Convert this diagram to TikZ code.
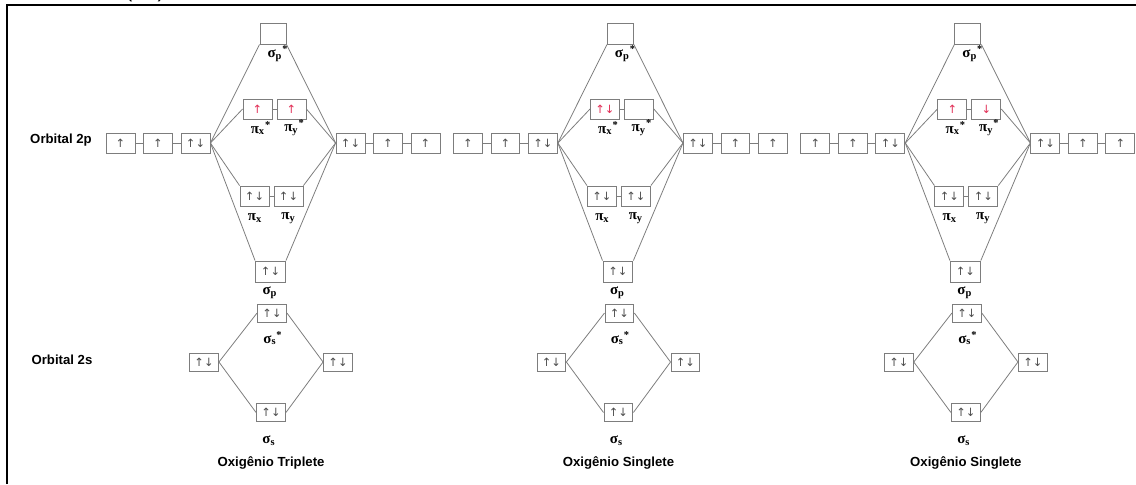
\documentclass[tikz,border=0pt]{standalone}
\usepackage{fontspec}
\setmainfont{Liberation Serif}
\setsansfont{Liberation Sans}
\newfontfamily\arrowfont{DejaVu Sans}
\usepackage{xcolor}
\usepackage{tikz}

\definecolor{linegray}{RGB}{125,125,125}
\definecolor{spinred}{RGB}{225,45,85}

\begin{document}
\begin{tikzpicture}[x=0.02cm, y=-0.02cm,
    orb/.style={draw=linegray, line width=0.5pt, minimum width=0.58cm,
      minimum height=0.40cm, inner sep=0pt, text=black!70,
      font=\arrowfont\fontsize{6.5}{7}\selectfont},
    orbs/.style={orb, minimum height=0.36cm},
    mo/.style={font=\bfseries\fontsize{8.5}{9}\selectfont},
    lbl/.style={font=\sffamily\bfseries\fontsize{7.5}{9}\selectfont},
    link/.style={draw=linegray, line width=0.45pt}]

    \clip (0,0) rectangle (1136,484);

    % Draw frame and cut heading
    \draw[line width=0.04cm] (7,484) -- (7,5) -- (1136,5);
    \node[anchor=base, font=\sffamily\fontsize{12}{14}\selectfont] (head) at (145,-2.5) {(O\textsubscript{2})};

    % Row labels
    \node[lbl] (l2p) at (61,140) {Orbital 2p};
    \node[lbl] (l2s) at (62,360) {Orbital 2s};

    % One diagram per state of O2
    \foreach \d/\pa/\pb/\kind in {0/{\color{spinred}↑}/{\color{spinred}↑}/Triplete,
                                  1/{\color{spinred}↑↓}/{}/Singlete,
                                  2/{\color{spinred}↑}/{\color{spinred}↓}/Singlete}{
      \begin{scope}[xshift=\d*6.95cm]
        % atomic 2p levels
        \node[orb] (a1-\d) at (120.5,143) {↑};
        \node[orb] (a2-\d) at (158,143) {↑};
        \node[orb] (a3-\d) at (195.5,143) {↑↓};
        \node[orb] (b1-\d) at (350.5,143) {↑↓};
        \node[orb] (b2-\d) at (388,143) {↑};
        \node[orb] (b3-\d) at (425.5,143) {↑};

        % molecular levels from 2p
        \node[orb, minimum width=0.52cm, minimum height=0.42cm] (sps-\d) at (273,33.5) {};
        \node[orb] (pxs-\d) at (257.5,109) {\pa};
        \node[orb] (pys-\d) at (291.5,109) {\pb};
        \node[orb] (px-\d) at (254.5,196) {↑↓};
        \node[orb] (py-\d) at (288.5,196) {↑↓};
        \node[orb, minimum width=0.60cm, minimum height=0.42cm] (sp-\d) at (270.5,271.5) {↑↓};

        % 2s levels
        \node[orbs] (s1-\d) at (204,362) {↑↓};
        \node[orbs] (s2-\d) at (338,362) {↑↓};
        \node[orbs] (sss-\d) at (272,313) {↑↓};
        \node[orbs] (ss-\d) at (271,412.5) {↑↓};

        % level names
        \node[mo] (lsps-\d) at (278,54) {σ\textsubscript{p}\textsuperscript{*}};
        \node[mo] (lpxs-\d) at (261,128) {π\textsubscript{x}\textsuperscript{*}};
        \node[mo] (lpys-\d) at (294.5,128) {π\textsubscript{y}\textsuperscript{*}};
        \node[mo] (lpx-\d) at (255,218) {π\textsubscript{x}};
        \node[mo] (lpy-\d) at (288.5,218) {π\textsubscript{y}};
        \node[mo] (lsp-\d) at (270,293) {σ\textsubscript{p}};
        \node[mo] (lsss-\d) at (273,338) {σ\textsubscript{s}\textsuperscript{*}};
        \node[mo] (lss-\d) at (269,441) {σ\textsubscript{s}};
        \node[lbl] (t-\d) at (271,463) {Oxigênio \kind};

        % connectors
        \draw[link] (a1-\d) -- (a2-\d) -- (a3-\d);
        \draw[link] (b1-\d) -- (b2-\d) -- (b3-\d);
        \draw[link] (pxs-\d) -- (pys-\d);
        \draw[link] (px-\d) -- (py-\d);
        \draw[link] (sps-\d.south west) -- (a3-\d.east) -- (sp-\d.north west);
        \draw[link] (pxs-\d.west) -- (a3-\d.east) -- (px-\d.north west);
        \draw[link] (sps-\d.south east) -- (b1-\d.west) -- (sp-\d.north east);
        \draw[link] (pys-\d.east) -- (b1-\d.west) -- (py-\d.north east);
        \draw[link] (sss-\d.west) -- (s1-\d.east) -- (ss-\d.west);
        \draw[link] (sss-\d.east) -- (s2-\d.west) -- (ss-\d.east);
      \end{scope}
    }
\end{tikzpicture}
\end{document}
